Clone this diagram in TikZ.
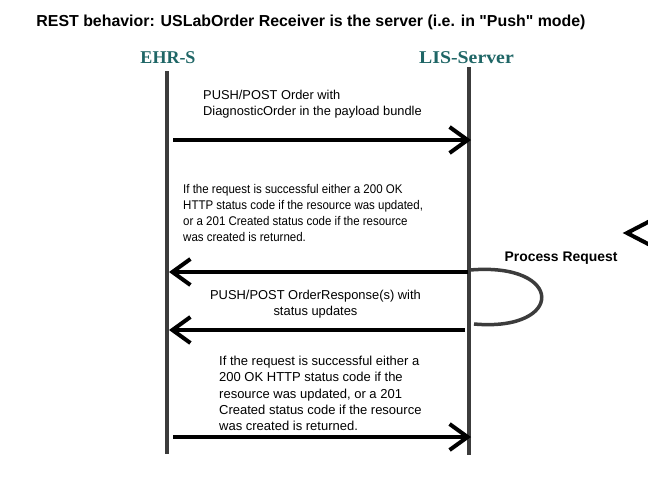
\documentclass[tikz,border=0pt]{standalone}
\usepackage{fontspec}
\usepackage{graphicx}
\setmainfont{Liberation Sans}[Ligatures=TeXOff]
\newfontfamily\narrowfont{Liberation Sans}[Ligatures=TeXOff,FakeStretch=0.913]
\newfontfamily\lblfont{Liberation Serif}
\usetikzlibrary{arrows.meta}
\definecolor{lifegray}{HTML}{3C3C3C}
\definecolor{teal}{HTML}{1F6666}
\tikzset{
  lifeline/.style={draw=lifegray,line width=3.5pt},
  msg/.style={draw=black,line width=4pt,-{Straight Barb[length=18pt,width=26pt,line width=4pt]}},
  msgtext/.style={inner sep=0pt},
  actor/.style={font=\lblfont\bfseries\fontsize{18}{20}\selectfont,text=teal,inner sep=0pt},
  looparc/.style={draw=lifegray,line width=3.5pt},
}
\begin{document}
\begin{tikzpicture}[x=1pt,y=-1pt]
\useasboundingbox (0,0) rectangle (648,480);
\clip (0,0) rectangle (648,480);
\node[font=\bfseries\fontsize{15.9}{18}\selectfont,inner sep=0pt] (title) at (311,22) {REST behavior: USLabOrder Receiver is the server (i.e. in "Push" mode)};
\node[actor] (ehr) at (168,58) {EHR-S};
\node[actor] (lis) at (466.5,58) {\scalebox{1.1}[1]{LIS-Server}};
\coordinate (ehrtop) at (167,71);
\coordinate (ehrbot) at (167,454);
\coordinate (listop) at (469,67);
\coordinate (lisbot) at (469,455);
\draw[lifeline] (ehrtop) -- (ehrbot);
\draw[lifeline] (listop) -- (lisbot);
% messages
\coordinate (a1s) at (173,140); \coordinate (a1e) at (471,140);
\coordinate (a2s) at (468,272); \coordinate (a2e) at (169,272);
\coordinate (a3s) at (465,330); \coordinate (a3e) at (169,330);
\coordinate (a4s) at (173,437); \coordinate (a4e) at (471,437);
\draw[msg] (a1s) -- (a1e);
\draw[msg] (a2s) -- (a2e);
\draw[msg] (a3s) -- (a3e);
\draw[msg] (a4s) -- (a4e);
% texts
\node[msgtext,font=\fontsize{12.85}{16}\selectfont,anchor=north west,align=left] (t1) at (203,90) {PUSH/POST Order with\\DiagnosticOrder in the payload bundle};
\node[msgtext,font=\narrowfont\fontsize{12.6}{16.2}\selectfont,anchor=north west,align=left] (t2) at (183,184) {If the request is successful either a 200 OK\\HTTP status code if the resource was updated,\\or a 201 Created status code if the resource\\was created is returned.};
\node[msgtext,font=\fontsize{12.9}{16.6}\selectfont,anchor=north,align=center] (t3) at (315.5,289.5) {PUSH/POST OrderResponse(s) with\\status updates};
\node[msgtext,font=\fontsize{13}{16.25}\selectfont,anchor=north west,align=left] (t4) at (219,356) {If the request is successful either a\\200 OK HTTP status code if the\\resource was updated, or a 201\\Created status code if the resource\\was created is returned.};
% self loop
\coordinate (ls) at (470,270); \coordinate (le) at (474,324);
\draw[looparc] (ls) .. controls (565,262) and (565,332) .. (le);
\node[font=\bfseries\fontsize{13.9}{15}\selectfont,inner sep=0pt] (pr) at (561,258) {Process Request};
% partial arrowhead at right edge
\coordinate (pt) at (627,233);
\draw[line width=4pt,line join=miter] (652,220) -- (pt) -- (652,246);
\end{tikzpicture}
\end{document}
